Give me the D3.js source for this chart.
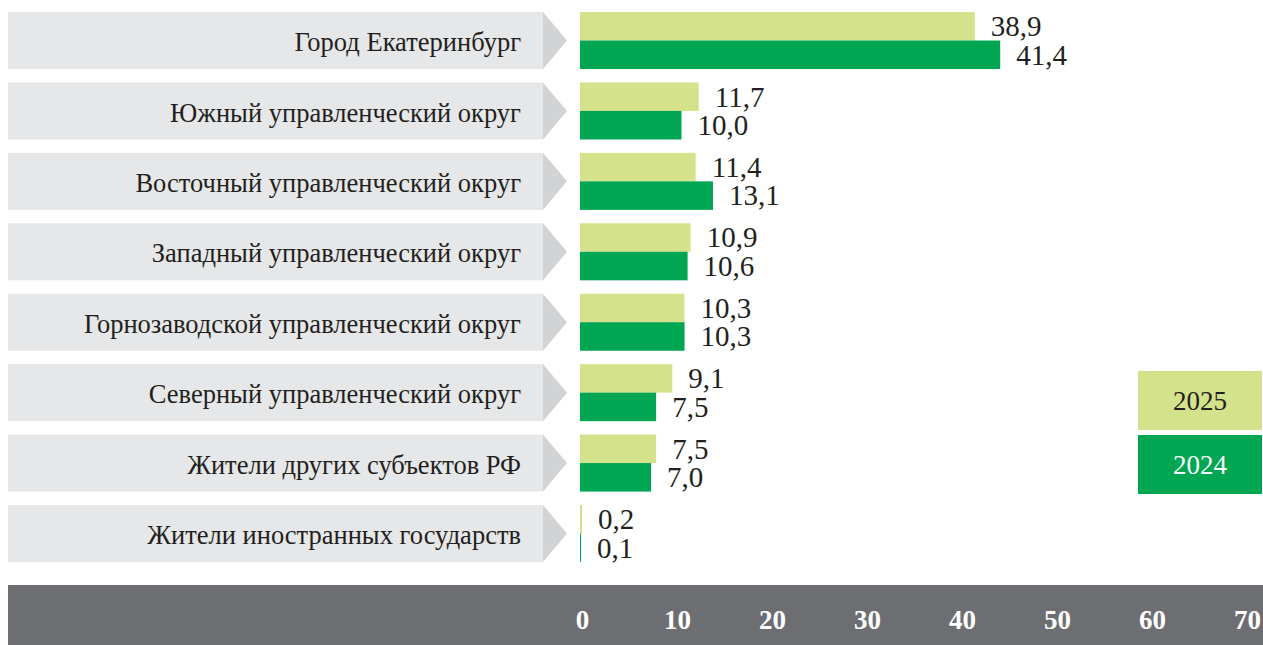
<!DOCTYPE html>
<html>
<head>
<meta charset="utf-8">
<script src="https://cdn.jsdelivr.net/npm/d3@7"></script>
<style>
    body { margin: 0; background: #fff; }
    svg { display: block; }
</style>
</head>
<body>
<svg></svg>
<script>
const categories = [
    'Город Екатеринбург',
    'Южный управленческий округ',
    'Восточный управленческий округ',
    'Западный управленческий округ',
    'Горнозаводской управленческий округ',
    'Северный управленческий округ',
    'Жители других субъектов РФ',
    'Жители иностранных государств'
]
const years = ['2025', '2024']
const values2025 = [38.9, 11.7, 11.4, 10.9, 10.3, 9.1, 7.5, 0.2]
const values2024 = [41.4, 10.0, 13.1, 10.6, 10.3, 7.5, 7.0, 0.1]
const ticks = [0, 10, 20, 30, 40, 50, 60, 70]

const width = 1263, height = 645
const colors = { '2025': '#d4e38b', '2024': '#00a651' }
const serif = 'Tinos, "Times New Roman", serif'

const data = categories.map((name, i) => ({
    name,
    values: [
        { year: '2025', value: values2025[i] },
        { year: '2024', value: values2024[i] }
    ]
}))

const svg = d3.select('svg')
    .attr('width', width)
    .attr('height', height)
    .style('font-family', serif)

const y = d3.scaleBand()
    .domain(categories)
    .range([12, 562])
    .paddingInner(0.19)
    .paddingOuter(0)

const sub = d3.scaleBand()
    .domain(years)
    .range([0, y.bandwidth()])

// bar scale
const x = d3.scaleLinear()
    .domain([0, 50])
    .range([580, 1087.5])

// tick labels in the bottom band don't line up with the bars in the original
const xAxisScale = d3.scaleLinear()
    .domain([0, 70])
    .range([582, 1247])

// category arrows
const rows = svg.append('g').selectAll('g')
    .data(data)
    .join('g')
    .attr('transform', d => `translate(0,${y(d.name)})`)

const bh = y.bandwidth()
rows.append('rect')
    .attr('x', 8)
    .attr('width', 535)
    .attr('height', bh)
    .attr('fill', '#e6e7e8')

rows.append('path')
    .attr('d', `M543,0 L567,${bh / 2} L543,${bh} Z`)
    .attr('fill', '#d1d3d4')

rows.append('text')
    .attr('x', 521)
    .attr('y', bh / 2)
    .attr('dy', '0.4em')
    .attr('text-anchor', 'end')
    .attr('font-family', serif)
    .attr('font-size', 26.5)
    .attr('fill', '#231f20')
    .text(d => d.name)

// bars
const bars = rows.selectAll('g.bar')
    .data(d => d.values)
    .join('g')
    .attr('class', 'bar')

bars.append('rect')
    .attr('x', x(0))
    .attr('y', d => sub(d.year))
    .attr('width', d => x(d.value) - x(0))
    .attr('height', sub.bandwidth())
    .attr('fill', d => colors[d.year])

bars.append('text')
    .attr('x', d => x(d.value) + 16)
    .attr('y', d => sub(d.year) + sub.bandwidth() / 2)
    .attr('dy', '0.34em')
    .attr('font-family', serif)
    .attr('font-size', 29)
    .attr('fill', '#231f20')
    .text(d => d3.format('.1f')(d.value).replace('.', ','))

// bottom axis band
svg.append('rect')
    .attr('x', 8)
    .attr('y', 585)
    .attr('width', width - 8)
    .attr('height', 60)
    .attr('fill', '#6d6e71')

const axis = svg.append('g')
    .attr('transform', 'translate(0,620)')
    .call(d3.axisBottom(xAxisScale).tickValues(ticks).tickSize(0).tickPadding(0))

axis.select('.domain').remove()
axis.selectAll('text')
    .attr('dy', '0.35em')
    .attr('y', 0)
    .attr('font-family', serif)
    .attr('font-weight', 'bold')
    .attr('font-size', 27)
    .attr('fill', '#fff')

// legend
const legend = svg.append('g').selectAll('g')
    .data(years)
    .join('g')
    .attr('transform', (d, i) => `translate(1138,${371 + i * 64})`)

legend.append('rect')
    .attr('width', 124)
    .attr('height', 59)
    .attr('fill', d => colors[d])

legend.append('text')
    .attr('x', 62)
    .attr('y', 30)
    .attr('dy', '0.35em')
    .attr('text-anchor', 'middle')
    .attr('font-family', serif)
    .attr('font-size', 27)
    .attr('fill', d => d === '2024' ? '#fff' : '#231f20')
    .text(d => d)
</script>
</body>
</html>
